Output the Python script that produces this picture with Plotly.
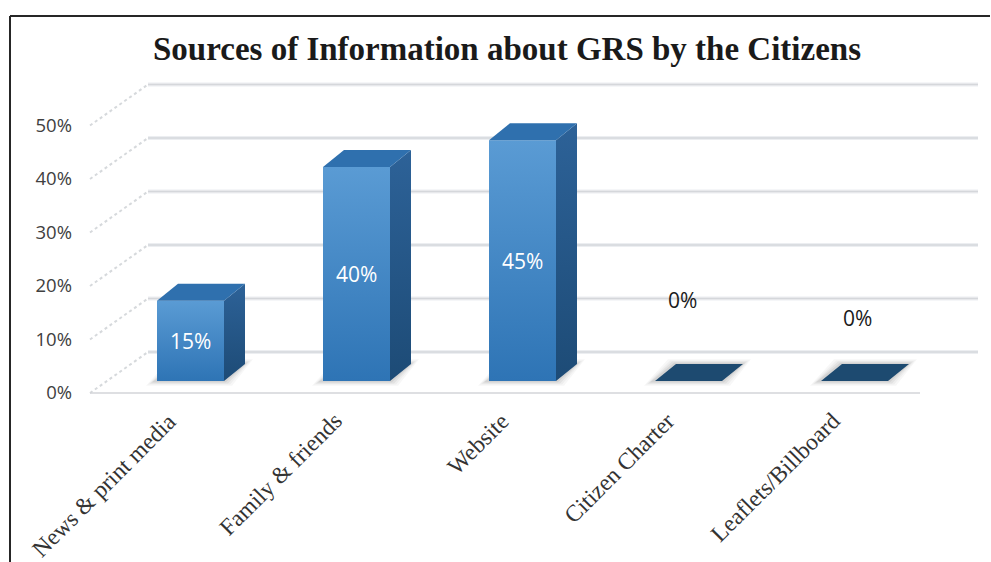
import plotly.graph_objects as go

# ---- data -------------------------------------------------------------
categories = ["News & print media", "Family & friends", "Website",
              "Citizen Charter", "Leaflets/Billboard"]
shares = [15, 40, 45, 0, 0]
tick_values = [0, 10, 20, 30, 40, 50]
tick_labels = ["0%", "10%", "20%", "30%", "40%", "50%"]
title_text = "Sources of Information about GRS by the Citizens"

# ---- geometry of the pseudo-3D scene ----------------------------------
W, H = 991, 562
CAT_PX = 166.0          # pixels per category step
PCT_PX = 5.35           # pixels per percentage point
ORIGIN = (173.0, 393.0)  # pixel of (category 0, 0%) on the front plane

X_RANGE = [-ORIGIN[0] / CAT_PX, (W - ORIGIN[0]) / CAT_PX]
Y_RANGE = [-(H - ORIGIN[1]) / PCT_PX, ORIGIN[1] / PCT_PX]


def ux(px):
    return px / CAT_PX


def uy(px):
    return px / PCT_PX


DEPTH_X, DEPTH_Y = ux(58), uy(41)     # floor / wall depth
BAR_W = ux(67)                        # bar front width
BAR_FX, BAR_FY = ux(17.5), uy(12)     # bar front plane offset
BAR_DX, BAR_DY = ux(21), uy(17)       # bar depth
X_LEFT = -0.5
X_RIGHT = len(categories) - 0.5

FRONT_SCALE = [[0, "#2e74b5"], [1, "#5a9bd4"]]
SIDE_SCALE = [[0, "#1d4b76"], [1, "#2d6298"]]
TOP_COLOR = "#2f70ae"
FLAT_COLOR = "#1d4a70"

fig = go.Figure()


def poly(xs, ys, **kw):
    fig.add_trace(go.Scatter(
        x=list(xs) + [xs[0]], y=list(ys) + [ys[0]], mode="lines",
        fill="toself", line=dict(width=0), hoverinfo="skip",
        showlegend=False, **kw))


# back wall gridlines (soft double line)
gx, gy = [], []
for v in tick_values:
    gx += [X_LEFT + DEPTH_X, X_RIGHT + DEPTH_X, None]
    gy += [v + DEPTH_Y, v + DEPTH_Y, None]
fig.add_trace(go.Scatter(x=gx, y=gy, mode="lines",
                         line=dict(color="#eceef1", width=4),
                         hoverinfo="skip", showlegend=False))
fig.add_trace(go.Scatter(x=gx, y=gy, mode="lines",
                         line=dict(color="#d5d7db", width=1.5),
                         hoverinfo="skip", showlegend=False))

# side wall gridlines (dotted diagonals)
sx, sy = [], []
for v in tick_values:
    sx += [X_LEFT, X_LEFT + DEPTH_X, None]
    sy += [v, v + DEPTH_Y, None]
fig.add_trace(go.Scatter(x=sx, y=sy, mode="lines",
                         line=dict(color="#d6d9dc", width=2, dash="dot"),
                         hoverinfo="skip", showlegend=False))

# floor front edge
fig.add_trace(go.Scatter(x=[X_LEFT, X_RIGHT], y=[0, 0], mode="lines",
                         line=dict(color="#d3d5d8", width=1.5),
                         hoverinfo="skip", showlegend=False))

# bars
for i, v in enumerate(shares):
    fx0 = i + BAR_FX - BAR_W / 2
    fx1 = fx0 + BAR_W
    fy0 = BAR_FY
    fy1 = BAR_FY + v

    # soft floor shadow around the footprint
    for e, a in [(8, 0.035), (6, 0.045), (4, 0.06), (2, 0.08)]:
        ex, ey = ux(e), uy(e * 0.6)
        poly([fx0 - ex - ux(3), fx1 + ex, fx1 + BAR_DX + ex, fx0 + BAR_DX - ex],
             [fy0 - ey, fy0 - ey, fy0 + BAR_DY + ey, fy0 + BAR_DY + ey],
             fillcolor=f"rgba(40,40,40,{a})")

    if v > 0:
        poly([fx0, fx1, fx1, fx0], [fy0, fy0, fy1, fy1],
             fillgradient=dict(type="vertical", colorscale=FRONT_SCALE))
        poly([fx1, fx1 + BAR_DX, fx1 + BAR_DX, fx1],
             [fy0, fy0 + BAR_DY, fy1 + BAR_DY, fy1],
             fillgradient=dict(type="vertical", colorscale=SIDE_SCALE))
        poly([fx0, fx1, fx1 + BAR_DX, fx0 + BAR_DX],
             [fy1, fy1, fy1 + BAR_DY, fy1 + BAR_DY], fillcolor=TOP_COLOR)
    else:
        poly([fx0, fx1, fx1 + BAR_DX, fx0 + BAR_DX],
             [fy1, fy1, fy1 + BAR_DY, fy1 + BAR_DY], fillcolor=FLAT_COLOR)

annotations = []

# value labels
zero_label_shift = [(-6, 81), (3, 63)]
zi = 0
for i, v in enumerate(shares):
    cx = i + BAR_FX
    if v > 0:
        annotations.append(dict(
            x=cx, y=BAR_FY + v / 2, text=f"{v}%", showarrow=False,
            font=dict(family="Open Sans", size=21, color="white"),
            xanchor="center", yanchor="middle"))
    else:
        dx, dy = zero_label_shift[zi % len(zero_label_shift)]
        zi += 1
        annotations.append(dict(
            x=cx, y=BAR_FY + v, text=f"{v}%", showarrow=False,
            xshift=dx, yshift=dy,
            font=dict(family="Open Sans", size=21, color="#1a1a1a"),
            xanchor="center", yanchor="middle"))

# category labels
for i, c in enumerate(categories):
    annotations.append(dict(
        x=i + ux(11), y=-uy(12), text=c, showarrow=False, textangle=-45,
        font=dict(family="Liberation Serif", size=23.5, color="#333333"),
        xanchor="right", yanchor="top"))

# title
annotations.append(dict(
    x=507 / W, y=1 - 49 / H, xref="paper", yref="paper",
    text=f"<b>{title_text}</b>", showarrow=False,
    font=dict(family="Liberation Serif", size=33, color="#1a1a1a"),
    xanchor="center", yanchor="middle"))

fig.update_layout(
    width=W, height=H, autosize=False,
    margin=dict(l=0, r=0, t=0, b=0),
    paper_bgcolor="white", plot_bgcolor="white",
    xaxis=dict(range=X_RANGE, visible=False, fixedrange=True),
    yaxis=dict(range=Y_RANGE, fixedrange=True, showgrid=False,
               zeroline=False, showline=False, ticks="",
               tickvals=tick_values, ticktext=tick_labels,
               anchor="free", position=72 / W,
               tickfont=dict(family="Open Sans", size=18.5, color="#404040")),
    annotations=annotations,
    shapes=[
        dict(type="line", xref="paper", yref="paper",
             x0=10 / W, x1=990 / W, y0=1 - 16 / H, y1=1 - 16 / H,
             line=dict(color="#262626", width=2)),
        dict(type="line", xref="paper", yref="paper",
             x0=10 / W, x1=10 / W, y0=1 - 16 / H, y1=0,
             line=dict(color="#262626", width=2)),
    ],
)

fig.write_html("out.html")
